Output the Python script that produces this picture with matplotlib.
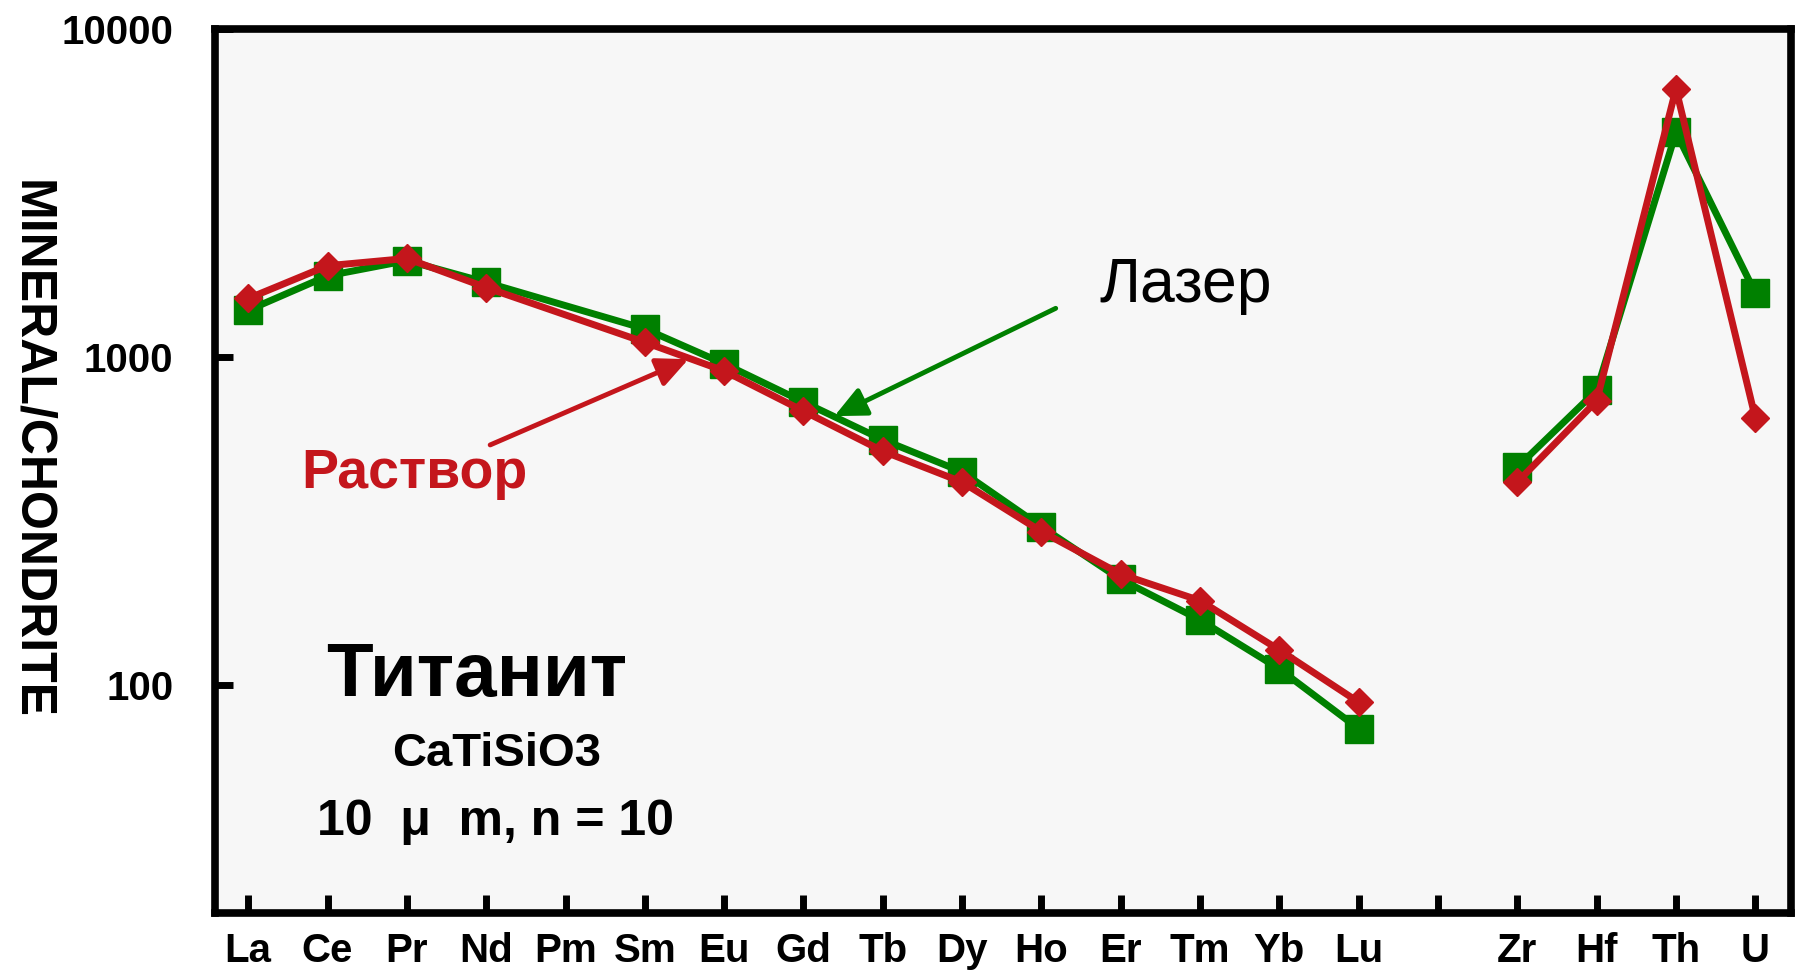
import numpy as np
import matplotlib.pyplot as plt

plt.rcParams['font.family'] = ['Liberation Sans', 'DejaVu Sans']

# chondrite-normalised contents, titanite (Pm and the gap have no value)
elements = ['La', 'Ce', 'Pr', 'Nd', 'Pm', 'Sm', 'Eu', 'Gd', 'Tb', 'Dy', 'Ho', 'Er',
            'Tm', 'Yb', 'Lu', '', 'Zr', 'Hf', 'Th', 'U']
laser = [1390, 1770, 1970, 1690, np.nan, 1220, 955, 730, 560, 447, 304, 210,
         158, 112, 73.6, np.nan, 462, 792, 4850, 1570]
solution = [1510, 1900, 2000, 1630, np.nan, 1110, 908, 685, 517, 416, 294, 218,
            181, 128, 88.7, np.nan, 416, 736, 6580, 653]
yticks = [100, 1000, 10000]
groups = [(0, 15), (16, 20)]

green = '#008000'
red = '#C4161C'

fig = plt.figure(figsize=(18, 9.73), dpi=100)
ax = fig.add_axes([0.1194, 0.0617, 0.8756, 0.9083])
ax.set_facecolor('#F7F7F7')

x = np.arange(len(elements))
laser = np.array(laser, dtype=float)
solution = np.array(solution, dtype=float)
for lo, hi in groups:
    xs = x[lo:hi]
    m = ~np.isnan(laser[lo:hi])
    ax.plot(xs[m], laser[lo:hi][m], color=green, lw=5, marker='s', ms=20,
            mec=green, mfc=green, zorder=3)
    m = ~np.isnan(solution[lo:hi])
    ax.plot(xs[m], solution[lo:hi][m], color=red, lw=5, marker='D', ms=14.5,
            mec=red, mfc=red, zorder=4)

ax.set_yscale('log')
ax.set_ylim(20.2, 10000)
ax.set_xlim(-0.42, 19.45)
ax.set_yticks(yticks)
ax.set_yticklabels([str(v) for v in yticks])
ax.yaxis.set_minor_locator(plt.NullLocator())
ax.set_xticks(x)
ax.set_xticklabels(elements)

for s in ax.spines.values():
    s.set_linewidth(5.5)
ax.tick_params(axis='both', which='major', direction='in', length=13, width=5,
               labelsize=29)
ax.tick_params(axis='x', pad=14)
ax.tick_params(axis='y', pad=30)
for lab in ax.get_xticklabels() + ax.get_yticklabels():
    lab.set_fontweight('bold')

fig.text(31 / 1800, 1 - 449 / 973, 'MINERAL/CHONDRITE', rotation=-90,
         fontsize=36, fontweight='bold', ha='center', va='center')

# annotations
ax.annotate('', xy=(7.39, 661), xytext=(10.18, 1409),
            arrowprops=dict(arrowstyle='-|>,head_length=0.6,head_width=0.28',
                            color=green, lw=3.5, mutation_scale=32,
                            shrinkA=0, shrinkB=0))
ax.annotate('', xy=(5.55, 986), xytext=(3.05, 540),
            arrowprops=dict(arrowstyle='-|>,head_length=0.6,head_width=0.28',
                            color=red, lw=3.5, mutation_scale=32,
                            shrinkA=0, shrinkB=0))
ax.text(0.5615, 0.710, 'Лазер', transform=ax.transAxes, fontsize=45,
        ha='left', va='center')
ax.text(0.0546, 0.497, 'Раствор', transform=ax.transAxes, fontsize=40,
        fontweight='bold', color=red, ha='left', va='center')
ax.text(0.166, 0.267, 'Титанит', transform=ax.transAxes, fontsize=55,
        fontweight='bold', ha='center', va='center')
ax.text(0.179, 0.180, 'CaTiSiO3', transform=ax.transAxes, fontsize=34,
        fontweight='bold', ha='center', va='center')
ax.text(0.178, 0.103, '10  μ  m, n = 10', transform=ax.transAxes, fontsize=36,
        fontweight='bold', ha='center', va='center')

fig.savefig('out.png', dpi=100)
